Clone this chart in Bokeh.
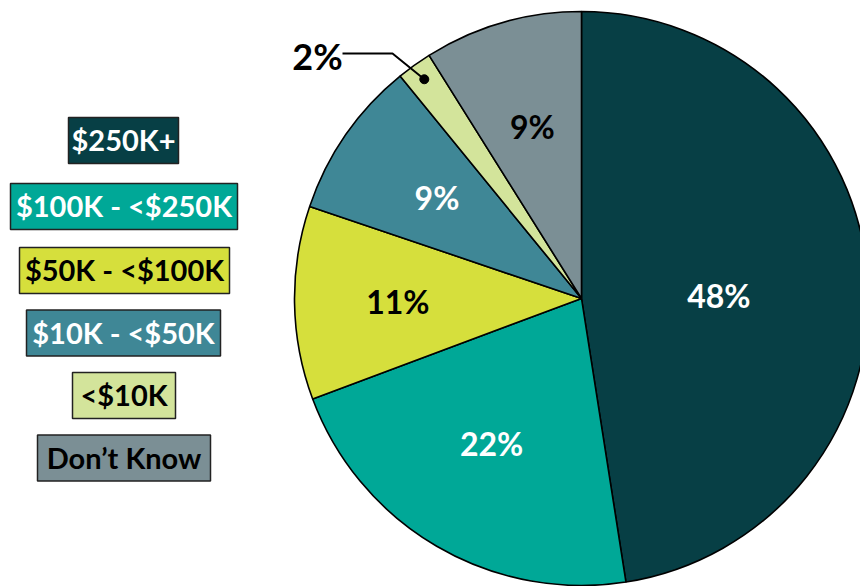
import math
from bokeh.plotting import figure
from bokeh.models import Range1d, ColumnDataSource
from bokeh.core.properties import value
from bokeh.embed import file_html
from bokeh.resources import INLINE

# ---- data ----
categories = ["$250K+", "$100K - <$250K", "$50K - <$100K", "$10K - <$50K", "<$10K", "Don\u2019t Know"]
values = [48, 22, 11, 9, 2, 9]
labels = ["48%", "22%", "11%", "9%", "2%", "9%"]
colors = ["#073f45", "#00a897", "#d6df3c", "#3f8796", "#d3e49b", "#7b8f95"]
text_colors = ["white", "white", "black", "white", "black", "black"]
legend_text_colors = ["white", "white", "black", "white", "black", "black"]

W, H = 860, 586
p = figure(width=W, height=H, output_backend="svg", toolbar_location=None,
           x_range=Range1d(0, W), y_range=Range1d(0, H), min_border=0)
p.axis.visible = False
p.grid.visible = False
p.outline_line_color = None
p.background_fill_color = "white"
p.border_fill_color = "white"

def Y(y):
    return H - y

cx, cy, r = 581, Y(298), 287
total = float(sum(values))
starts, ends, mids = [], [], []
cum = 0.0
for v in values:
    a0 = math.pi / 2 - cum / total * 2 * math.pi
    cum += v
    a1 = math.pi / 2 - cum / total * 2 * math.pi
    starts.append(a0)
    ends.append(a1)
    mids.append((a0 + a1) / 2)

src = ColumnDataSource(dict(start=starts, end=ends, color=colors))
p.wedge(x=cx, y=cy, radius=r, start_angle="start", end_angle="end",
        direction="clock", fill_color="color", line_color="black", line_width=1.6,
        source=src)

label_frac = [0.48, 0.6, 0.64, 0.6, None, 0.62]
label_dy = [-8, 4, 0, 3, 0, 1]
label_dx = [0, -3, 0, -3, 0, 0]
lx, ly, lt, lc = [], [], [], []
for i, f in enumerate(label_frac):
    if f is None:
        continue
    lx.append(cx + f * r * math.cos(mids[i]) + label_dx[i])
    ly.append(cy + f * r * math.sin(mids[i]) + label_dy[i])
    lt.append(labels[i])
    lc.append(text_colors[i])
p.text(x=lx, y=ly, text=lt, text_color=lc, text_font=value("Lato"),
       text_font_style="bold", text_font_size="32px",
       text_align="center", text_baseline="middle")

# 2% callout
i2 = 4
dot_x = cx + 0.94 * r * math.cos(mids[i2])
dot_y = cy + 0.94 * r * math.sin(mids[i2])
p.line(x=[342, 392, dot_x], y=[Y(53), Y(53), dot_y], line_color="black", line_width=2)
p.scatter(x=[dot_x], y=[dot_y], size=9, fill_color="black", line_color="black")
p.text(x=[317], y=[Y(55)], text=[labels[i2]], text_color="black", text_font=value("Lato"),
       text_font_style="bold", text_font_size="36px", text_align="center", text_baseline="middle")

# legend boxes
box_cx = [123, 123.5, 124, 123, 123.5, 123.5]
box_cy = [140, 206, 270, 332.5, 395, 457.5]
box_w = [110, 227, 210, 194, 103, 173]
box_h = 46
p.rect(x=box_cx, y=[Y(v) for v in box_cy], width=box_w, height=box_h,
       fill_color=colors, line_color="#222222", line_width=1.5)
p.text(x=box_cx, y=[Y(v) + 1 for v in box_cy], text=categories, text_color=legend_text_colors,
       text_font=value("Lato"), text_font_style="bold", text_font_size="29px",
       text_align="center", text_baseline="middle")

open("out.html", "w").write(file_html(p, INLINE))
